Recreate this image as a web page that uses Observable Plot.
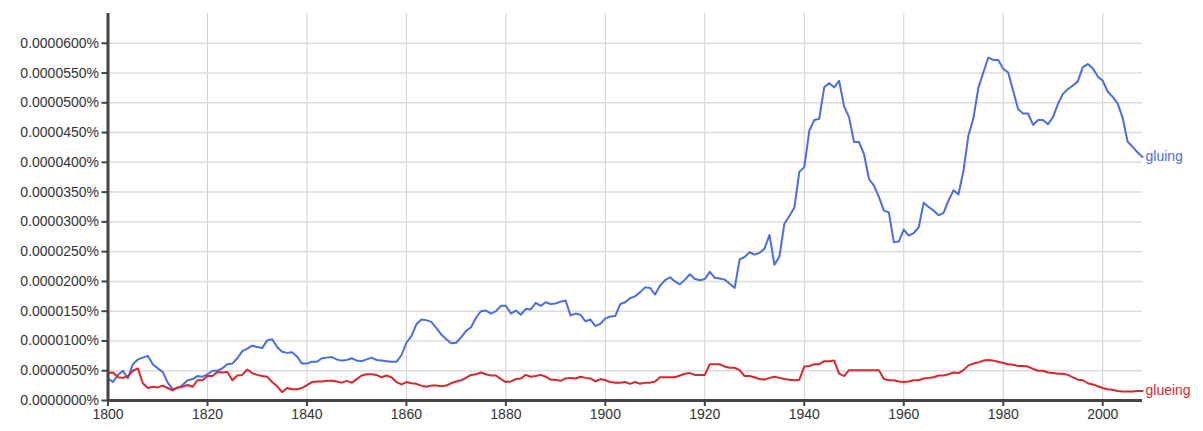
<!DOCTYPE html>
<html>
<head>
<meta charset="utf-8">
<script src="https://cdn.jsdelivr.net/npm/d3@7"></script>
<script src="https://cdn.jsdelivr.net/npm/@observablehq/plot@0.6"></script>
<style>
  html, body { margin: 0; padding: 0; background: #fff; }
  #chart svg { display: block; }
</style>
</head>
<body>
<div id="chart"></div>
<script>
// Values in units of 0.00001 %  (e.g. 6.0 -> 0.0000600%)
const startYear = 1800;
const endYear = 2008;

const gluing = [
  0.37,0.31,0.43,0.50,0.37,0.61,0.69,0.72,0.75,0.61,
  0.54,0.48,0.30,0.19,0.21,0.26,0.34,0.36,0.41,0.40,
  0.44,0.50,0.50,0.54,0.61,0.62,0.71,0.83,0.87,0.92,
  0.90,0.88,1.01,1.03,0.90,0.82,0.80,0.81,0.74,0.62,
  0.62,0.65,0.65,0.71,0.72,0.73,0.69,0.67,0.68,0.71,
  0.67,0.66,0.69,0.72,0.68,0.67,0.66,0.65,0.65,0.76,
  0.97,1.08,1.28,1.36,1.35,1.32,1.22,1.11,1.03,0.96,
  0.97,1.06,1.17,1.23,1.39,1.50,1.51,1.46,1.50,1.59,
  1.59,1.46,1.51,1.44,1.54,1.53,1.64,1.59,1.65,1.62,
  1.63,1.66,1.68,1.43,1.46,1.44,1.33,1.36,1.25,1.29,
  1.38,1.41,1.42,1.62,1.65,1.72,1.75,1.82,1.90,1.89,
  1.78,1.93,2.02,2.07,2.00,1.95,2.03,2.12,2.04,2.02,
  2.04,2.16,2.06,2.05,2.03,1.96,1.89,2.37,2.41,2.49,
  2.45,2.48,2.55,2.78,2.28,2.42,2.97,3.10,3.24,3.84,
  3.92,4.53,4.71,4.73,5.26,5.33,5.26,5.37,4.94,4.76,
  4.34,4.34,4.14,3.72,3.61,3.42,3.19,3.16,2.66,2.67,
  2.87,2.77,2.81,2.91,3.32,3.25,3.19,3.11,3.15,3.36,
  3.53,3.46,3.86,4.45,
  4.74,5.25,5.51,5.76,5.72,5.72,5.57,5.51,5.20,4.89,
  4.82,4.82,4.63,4.71,4.71,4.64,4.76,4.98,5.15,5.23,
  5.29,5.36,5.60,5.65,5.58,5.44,5.37,5.19,5.10,4.99,
  4.75,4.35,4.26,4.17,4.09
];

const glueing = [
  0.46,0.47,0.39,0.38,0.41,0.50,0.54,0.29,0.21,0.23,
  0.22,0.25,0.21,0.17,0.22,0.23,0.26,0.23,0.34,0.34,
  0.41,0.41,0.48,0.47,0.48,0.34,0.42,0.43,0.52,0.46,
  0.43,0.41,0.40,0.31,0.24,0.14,0.21,0.19,0.19,0.21,
  0.26,0.31,0.32,0.32,0.33,0.33,0.32,0.30,0.33,0.30,
  0.36,0.42,0.44,0.44,0.43,0.39,0.42,0.39,0.31,0.27,
  0.31,0.29,0.28,0.25,0.23,0.25,0.25,0.24,0.25,0.29,
  0.32,0.34,0.38,0.43,0.44,0.47,0.44,0.42,0.42,0.36,
  0.31,0.32,0.36,0.37,0.43,0.40,0.41,0.43,0.40,0.35,
  0.35,0.33,0.37,0.38,0.37,0.40,0.38,0.37,0.32,0.36,
  0.34,0.31,0.30,0.30,0.31,0.28,0.31,0.28,0.30,0.30,
  0.32,0.39,0.39,0.39,0.39,0.42,0.45,0.46,0.43,0.43,
  0.43,0.61,0.61,0.61,0.57,0.55,0.55,0.51,0.41,0.41,
  0.39,0.36,0.35,0.38,0.40,0.38,0.36,0.35,0.34,0.35,
  0.57,0.58,0.61,0.61,0.66,0.66,0.67,0.45,0.41,0.51,
  0.51,0.51,0.51,0.51,0.51,0.51,0.36,0.34,0.34,0.32,
  0.31,0.32,0.34,0.34,0.37,0.38,0.39,0.42,0.42,0.44,
  0.47,0.46,0.51,0.59,0.62,0.64,0.67,0.68,0.67,0.65,
  0.63,0.61,0.60,0.58,0.58,0.57,0.53,0.50,0.50,0.47,
  0.46,0.45,0.45,0.43,0.39,0.35,0.34,0.29,0.27,0.24,
  0.21,0.19,0.18,0.16,0.15,0.15,0.15,0.16,0.16
];

const seriesNames = ["gluing", "glueing"];
const seriesColors = ["#4a6ee0", "#d8262e"];
const yTicks = [0, 0.5, 1, 1.5, 2, 2.5, 3, 3.5, 4, 4.5, 5, 5.5, 6];
const xTicks = [1800, 1820, 1840, 1860, 1880, 1900, 1920, 1940, 1960, 1980, 2000];

const years = d3.range(startYear, endYear + 1);
const rows = [];
[gluing, glueing].forEach((vals, i) => {
  vals.forEach((v, j) => rows.push({series: seriesNames[i], year: years[j], value: v}));
});
const lastRows = seriesNames.map((s, i) => {
  const vals = i === 0 ? gluing : glueing;
  return {series: s, year: years[vals.length - 1], value: vals[vals.length - 1]};
});

const fmtY = d => (d * 1e-5).toFixed(7) + "%";

const chart = Plot.plot({
  width: 1203,
  height: 431,
  marginLeft: 107.5,
  marginRight: 61,
  marginTop: 13,
  marginBottom: 31,
  style: {fontFamily: "'Liberation Sans', Arial, Helvetica, sans-serif", fontSize: "14px", color: "#333", background: "#fff"},
  x: {domain: [startYear, endYear]},
  y: {domain: [0, 6.5]},
  color: {domain: seriesNames, range: seriesColors},
  marks: [
    Plot.gridX(xTicks, {stroke: "#cfcfcf", strokeOpacity: 1, strokeWidth: 1}),
    Plot.gridY(yTicks, {stroke: "#dcdcdc", strokeOpacity: 1, strokeWidth: 1.5}),
    Plot.axisY(yTicks, {tickFormat: fmtY, tickSize: 6, tickPadding: 3, stroke: "#444", strokeWidth: 2, fontSize: 14, label: null, fill: "#333"}),
    Plot.axisX(xTicks, {tickFormat: "d", tickSize: 6, tickPadding: 3, stroke: "#444", strokeWidth: 2, fontSize: 14, label: null, fill: "#333"}),
    Plot.lineY(rows, {x: "year", y: "value", z: "series", stroke: "series", strokeWidth: 2}),
    Plot.ruleX([startYear], {stroke: "#444", strokeWidth: 3}),
    Plot.ruleY([0], {stroke: "#444", strokeWidth: 3}),
    Plot.text(lastRows, {x: "year", y: "value", text: "series", fill: "series", textAnchor: "start", dx: 3, fontSize: 14})
  ]
});
document.getElementById("chart").appendChild(chart);
</script>
</body>
</html>
